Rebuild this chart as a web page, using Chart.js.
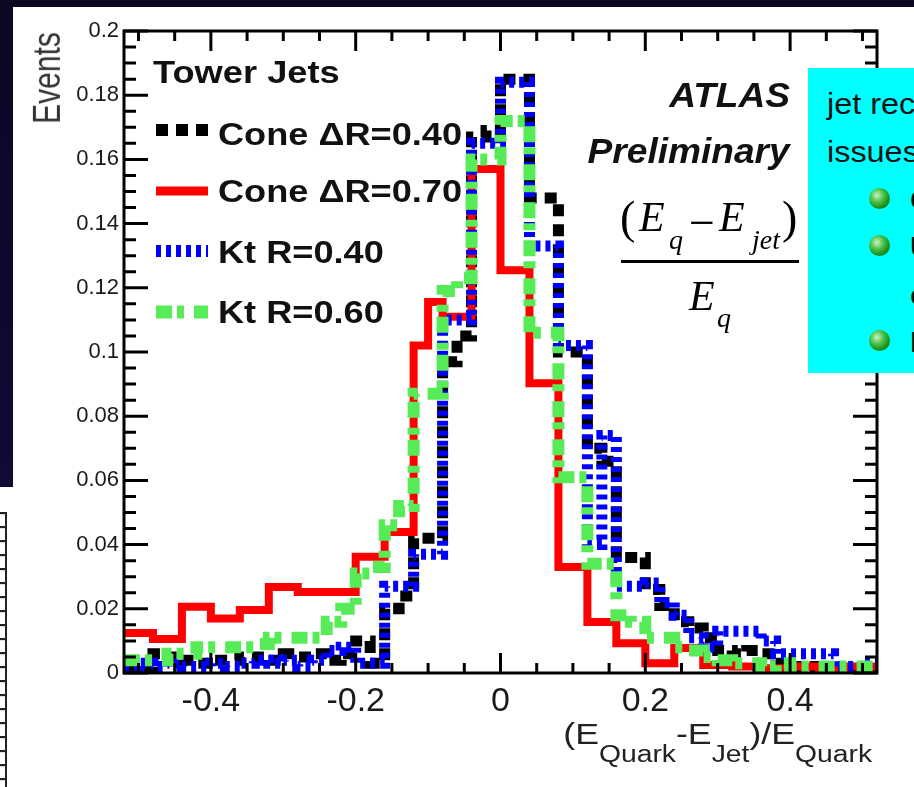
<!DOCTYPE html>
<html>
<head>
<meta charset="utf-8">
<script src="https://cdn.jsdelivr.net/npm/chart.js@4.4.1/dist/chart.umd.min.js"></script>
<style>
  html, body { margin: 0; padding: 0; }
  body { width: 914px; height: 787px; overflow: hidden; position: relative;
         background: linear-gradient(#0a0822, #160a44); font-family: "Liberation Sans", Arial, sans-serif; }
  .panel { position: absolute; background: #fff; }
  #table { position: absolute; left: 0; top: 512px; width: 5px; height: 275px;
           border-right: 2px solid #222;
           background: repeating-linear-gradient(to bottom, #222 0 2px, #ddd 2px 3px, #fff 3px 14px); }
  #plot { position: absolute; left: 0; top: 0; z-index: 1; }
  .t { position: absolute; white-space: nowrap; line-height: 1; z-index: 2; color: #111; }
  .leg { font-size: 32px; font-weight: bold; transform: scaleX(1.13); transform-origin: left top; }
  .atl { font-size: 35px; font-weight: bold; font-style: italic; transform: scaleX(1.06); transform-origin: right top; }
  .math { font-family: "Liberation Serif", "Times New Roman", serif; font-style: italic; color: #000; }
  .up { font-family: "Liberation Serif", "Times New Roman", serif; color: #000; }
  #bar { position: absolute; left: 621px; top: 260px; width: 178px; height: 3px; background: #000; z-index: 2; }
  #xt { right: 42px; top: 720px; font-size: 29px; color: #222; transform: scaleX(1.23); transform-origin: right top; }
  #xt sub { font-size: 23px; vertical-align: -18px; line-height: 0; }
  #ytitle { left: 47px; top: 78px; width: 0; height: 0; }
  #ytitle span { position: absolute; left: 0; top: 0; font-size: 30px; color: #333;
                 transform: translate(-50%, -50%) scaleX(1.3) rotate(-90deg); }
  #box { position: absolute; left: 808px; top: 68px; width: 106px; height: 305px; background: #00ffff;
         z-index: 3; overflow: hidden; }
  #box .bt { position: absolute; white-space: nowrap; line-height: 1; font-size: 30px; color: #111;
             transform: scaleX(1.08); transform-origin: left top; }
  .ball { position: absolute; width: 21px; height: 21px; border-radius: 50%;
          background: radial-gradient(circle at 38% 35%, #c8f5c0 0, #4cc24c 35%, #138a13 70%, #0a4f0a 100%); }
</style>
</head>
<body>
<div class="panel" style="left:13px; top:7px; width:901px; height:780px;"></div>
<div class="panel" style="left:0; top:487px; width:13px; height:300px;"></div>
<div id="table"></div>

<canvas id="plot" width="914" height="787"></canvas>

<div id="ytitle" class="t"><span>Events</span></div>

<div class="t" style="left:153px; top:57px; font-size:31px; font-weight:bold; transform:scaleX(1.17); transform-origin:left top;">Tower Jets</div>
<div class="t leg" style="left:218px; top:118px;">Cone ΔR=0.40</div>
<div class="t leg" style="left:218px; top:175px;">Cone ΔR=0.70</div>
<div class="t leg" style="left:218px; top:236px;">Kt R=0.40</div>
<div class="t leg" style="left:218px; top:296px;">Kt R=0.60</div>

<div class="t atl" style="right:124px; top:77px;">ATLAS</div>
<div class="t atl" style="right:124px; top:133px;">Preliminary</div>

<div class="t up" style="left:620px; top:195px; font-size:46px;">(</div>
<div class="t math" style="left:639px; top:196px; font-size:42px;">E</div>
<div class="t math" style="left:669px; top:226px; font-size:28px;">q</div>
<div class="t up" style="left:689px; top:200px; font-size:46px;">−</div>
<div class="t math" style="left:719px; top:196px; font-size:42px;">E</div>
<div class="t math" style="left:752px; top:226px; font-size:28px;">jet</div>
<div class="t up" style="left:782px; top:195px; font-size:46px;">)</div>
<div id="bar"></div>
<div class="t math" style="left:689px; top:275px; font-size:42px;">E</div>
<div class="t math" style="left:717px; top:304px; font-size:28px;">q</div>

<div id="xt" class="t">(E<sub>Quark</sub>-E<sub>Jet</sub>)/E<sub>Quark</sub></div>

<div id="box">
  <div class="bt" style="left:19px; top:21px;">jet reconstruction</div>
  <div class="bt" style="left:19px; top:69px;">issues:</div>
  <div class="ball" style="left:61px; top:120px;"></div>
  <div class="ball" style="left:61px; top:167px;"></div>
  <div class="ball" style="left:61px; top:262px;"></div>
  <div class="bt" style="left:102px; top:117px; font-weight:bold;">C</div>
  <div class="bt" style="left:102px; top:164px; font-weight:bold;">U</div>
  <div class="bt" style="left:102px; top:212px; font-weight:bold;">c</div>
  <div class="bt" style="left:102px; top:259px; font-weight:bold;">I</div>
</div>

<script>
// histogram bin edges, (E_Quark - E_Jet)/E_Quark
const BIN_EDGES = [
  -0.52, -0.50, -0.48, -0.46, -0.44, -0.42, -0.40, -0.38, -0.36, -0.34, -0.32, -0.30, -0.28,
  -0.26, -0.24, -0.22, -0.20, -0.18, -0.16, -0.14, -0.12, -0.10, -0.08, -0.06, -0.04, -0.02,
  0.00, 0.02, 0.04, 0.06, 0.08, 0.10, 0.12, 0.14, 0.16, 0.18, 0.20, 0.22, 0.24, 0.26,
  0.28, 0.30, 0.32, 0.34, 0.36, 0.38, 0.40, 0.42, 0.44, 0.46, 0.48, 0.50, 0.52,
];

// bin contents (one per bin, left to right)
const CONE_040 = [
  0.001, 0.001, 0.006, 0.005, 0.004, 0.003, 0.004, 0.004, 0.005, 0.005, 0.004, 0.006, 0.005,
  0.006, 0.004, 0.006, 0.010, 0.003, 0.020, 0.024, 0.042, 0.042, 0.097, 0.105, 0.167, 0.169,
  0.185, 0.185, 0.148, 0.148, 0.100, 0.100, 0.070, 0.066, 0.036, 0.036, 0.026, 0.021, 0.016, 0.014,
  0.011, 0.007, 0.006, 0.007, 0.006, 0.003, 0.002, 0.002, 0.001, 0.001, 0.001, 0.001,
];
const CONE_070 = [
  0.0125, 0.0125, 0.0106, 0.0106, 0.0206, 0.0206, 0.017, 0.017, 0.0196, 0.0196, 0.0268, 0.0268, 0.0252,
  0.0252, 0.0252, 0.0252, 0.0362, 0.0362, 0.0439, 0.0439, 0.102, 0.1156, 0.111, 0.111, 0.157, 0.157,
  0.1255, 0.1255, 0.0903, 0.0903, 0.033, 0.033, 0.0159, 0.0159, 0.0093, 0.0093, 0.003, 0.003, 0.0078, 0.0078,
  0.0025, 0.0025, 0.002, 0.002, 0.0015, 0.0015, 0.002, 0.002, 0.001, 0.001, 0.002, 0.002,
];
const KT_040 = [
  0.002, 0.003, 0.002, 0.003, 0.002, 0.002, 0.003, 0.002, 0.003, 0.004, 0.003, 0.004, 0.002,
  0.004, 0.007, 0.008, 0.003, 0.003, 0.027, 0.027, 0.037, 0.037, 0.110, 0.110, 0.165, 0.165,
  0.184, 0.184, 0.133, 0.133, 0.102, 0.102, 0.040, 0.074, 0.027, 0.027, 0.028, 0.022, 0.018, 0.011,
  0.008, 0.013, 0.013, 0.013, 0.010, 0.006, 0.006, 0.006, 0.006, 0.002, 0.002, 0.003,
];
const KT_060 = [
  0.004, 0.004, 0.004, 0.006, 0.006, 0.008, 0.008, 0.008, 0.008, 0.009, 0.011, 0.011, 0.011,
  0.011, 0.016, 0.020, 0.031, 0.033, 0.046, 0.052, 0.087, 0.087, 0.119, 0.123, 0.160, 0.160,
  0.172, 0.172, 0.106, 0.106, 0.061, 0.061, 0.034, 0.034, 0.018, 0.016, 0.011, 0.011, 0.008, 0.007,
  0.005, 0.004, 0.003, 0.003, 0.002, 0.003, 0.002, 0.002, 0.002, 0.002, 0.002, 0.002,
];

const X_TICKS = [-0.4, -0.2, 0, 0.2, 0.4];
const Y_TICKS = [0, 0.02, 0.04, 0.06, 0.08, 0.1, 0.12, 0.14, 0.16, 0.18, 0.2];

const SERIES = [
  { label: 'Cone ΔR=0.40', values: CONE_040, color: '#000000', width: 11, dash: [12, 8], order: 3 },
  { label: 'Cone ΔR=0.70', values: CONE_070, color: '#ff0000', width: 8, dash: [], order: 2 },
  { label: 'Kt R=0.40', values: KT_040, color: '#0000ff', width: 11, dash: [5, 5], order: 1 },
  { label: 'Kt R=0.60', values: KT_060, color: '#57ec57', width: 12, dash: [16, 5, 7, 10], order: 0 },
];
const LEGEND_Y = [130, 191, 251, 312];

const fmt = v => String(Math.round(v * 1000) / 1000);

// one point per left bin edge, plus the closing right edge
function histPoints(vals) {
  return BIN_EDGES.map((x, i) => ({ x, y: vals[Math.min(i, vals.length - 1)] }));
}

// ROOT style frame: inward ticks on all four sides, plus the legend line samples
const framePlugin = {
  id: 'frame',
  afterDatasetsDraw(chart) {
    const { ctx, chartArea: a, scales: { x, y } } = chart;
    ctx.save();
    ctx.strokeStyle = '#000';
    ctx.lineWidth = 3;
    ctx.setLineDash([]);
    ctx.beginPath();
    for (let i = 0; i <= 40; i++) {
      const py = y.getPixelForValue(i * 0.005);
      const len = i % 4 === 0 ? 24 : 12;
      ctx.moveTo(a.left, py); ctx.lineTo(a.left + len, py);
      ctx.moveTo(a.right, py); ctx.lineTo(a.right - len, py);
    }
    for (let i = -10; i <= 10; i++) {
      const px = x.getPixelForValue(i * 0.05);
      const len = i % 4 === 0 ? 20 : 10;
      ctx.moveTo(px, a.bottom); ctx.lineTo(px, a.bottom - len);
      ctx.moveTo(px, a.top); ctx.lineTo(px, a.top + len);
    }
    ctx.stroke();
    ctx.strokeRect(a.left, a.top, a.right - a.left, a.bottom - a.top);

    SERIES.forEach((s, i) => {
      ctx.beginPath();
      ctx.strokeStyle = s.color;
      ctx.lineWidth = s.width + 1;
      ctx.lineCap = 'butt';
      ctx.setLineDash(s.dash);
      ctx.moveTo(156, LEGEND_Y[i]);
      ctx.lineTo(208, LEGEND_Y[i]);
      ctx.stroke();
    });
    ctx.restore();
  },
};

const ctx = document.getElementById('plot').getContext('2d');
new Chart(ctx, {
  type: 'line',
  data: {
    datasets: SERIES.map(s => ({
      label: s.label,
      data: histPoints(s.values),
      borderColor: s.color,
      borderWidth: s.width,
      borderDash: s.dash,
      borderCapStyle: 'butt',
      borderJoinStyle: 'miter',
      stepped: true,
      pointRadius: 0,
      fill: false,
      order: s.order,
    })),
  },
  options: {
    responsive: false,
    animation: false,
    devicePixelRatio: 1,
    layout: { padding: { top: 31, right: 37, left: 0, bottom: 0 } },
    plugins: { legend: { display: false }, tooltip: { enabled: false } },
    scales: {
      x: {
        type: 'linear',
        min: -0.52,
        max: 0.52,
        afterFit: s => { s.height = 114; },
        afterBuildTicks: s => { s.ticks = X_TICKS.map(v => ({ value: v })); },
        grid: { display: false, drawTicks: false },
        border: { display: false },
        ticks: {
          autoSkip: false, maxRotation: 0, padding: 8, color: '#1a1a1a',
          font: { family: 'Liberation Sans, Arial, sans-serif', size: 34 },
          callback: v => fmt(v),
        },
      },
      y: {
        min: 0,
        max: 0.2,
        afterFit: s => { s.width = 124; },
        afterBuildTicks: s => { s.ticks = Y_TICKS.map(v => ({ value: v })); },
        grid: { display: false, drawTicks: false },
        border: { display: false },
        ticks: {
          autoSkip: false, padding: 5, color: '#1a1a1a',
          font: { family: 'Liberation Sans, Arial, sans-serif', size: 22 },
          callback: v => fmt(v),
        },
      },
    },
  },
  plugins: [framePlugin],
});
</script>
</body>
</html>
